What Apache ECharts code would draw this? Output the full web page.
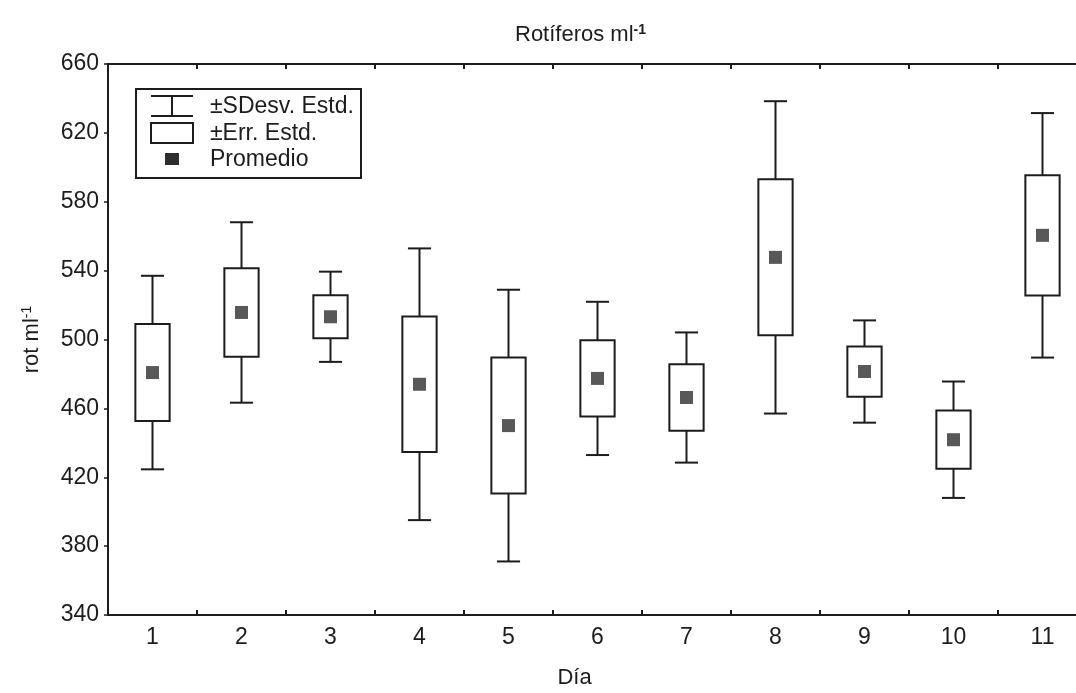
<!DOCTYPE html>
<html>
<head>
<meta charset="utf-8">
<script src="https://cdn.jsdelivr.net/npm/echarts@6/dist/echarts.min.js"></script>
<style>
  html, body { margin: 0; padding: 0; background: #fff; }
  #chart { width: 1076px; height: 693px; }
</style>
</head>
<body>
<div id="chart"></div>
<script>
// Rotifer density per day: mean, standard error and standard deviation
const days = ['1', '2', '3', '4', '5', '6', '7', '8', '9', '10', '11'];
const means = [480.8, 515.7, 513.2, 474.0, 450.0, 477.4, 466.3, 547.7, 481.4, 441.8, 560.5];
const stdErr = [28.2, 25.7, 12.5, 39.3, 39.5, 22.1, 19.3, 45.3, 14.6, 16.9, 34.9];
const stdDev = [56.2, 52.4, 26.2, 78.9, 78.9, 44.5, 37.8, 90.7, 29.7, 33.8, 71.0];
const yTicks = [340, 380, 420, 460, 500, 540, 580, 620, 660];

const INK = '#1c1c1c';
const FONT = '"Liberation Sans", Arial, sans-serif';

const statData = days.map((d, i) => [i, means[i], stdErr[i], stdDev[i]]);
const meanData = days.map((d, i) => [i, means[i]]);

// Whiskers (±SD) with caps
function renderWhisker(params, api) {
  const i = api.value(0), m = api.value(1), se = api.value(2), sd = api.value(3);
  const bw = api.size([1, 0])[0];
  const capHalf = bw * 0.13;
  const top = api.coord([i, m + sd]);
  const boxTop = api.coord([i, m + se]);
  const boxBot = api.coord([i, m - se]);
  const bot = api.coord([i, m - sd]);
  const x = top[0];
  const style = { stroke: INK, lineWidth: 2, fill: null };
  return {
    type: 'group',
    children: [
      { type: 'line', shape: { x1: x, y1: top[1], x2: x, y2: boxTop[1] }, style },
      { type: 'line', shape: { x1: x, y1: boxBot[1], x2: x, y2: bot[1] }, style },
      { type: 'line', shape: { x1: x - capHalf, y1: top[1], x2: x + capHalf, y2: top[1] }, style },
      { type: 'line', shape: { x1: x - capHalf, y1: bot[1], x2: x + capHalf, y2: bot[1] }, style }
    ]
  };
}

// Boxes (±SE)
function renderBox(params, api) {
  const i = api.value(0), m = api.value(1), se = api.value(2);
  const bw = api.size([1, 0])[0] * 0.385;
  const hi = api.coord([i, m + se]);
  const lo = api.coord([i, m - se]);
  return {
    type: 'rect',
    shape: { x: hi[0] - bw / 2, y: hi[1], width: bw, height: lo[1] - hi[1] },
    style: { stroke: INK, lineWidth: 2, fill: '#fff' }
  };
}

const chart = echarts.init(document.getElementById('chart'), null, { renderer: 'canvas' });

const legendX = 135, legendY = 88;

chart.setOption({
  backgroundColor: '#fff',
  animation: false,
  title: {
    text: '{t|Rotíferos ml}{s|-1}',
    left: 510,
    top: 18,
    textStyle: {
      rich: {
        t: { fontFamily: FONT, fontSize: 22, color: INK, fontWeight: 'normal' },
        s: { fontFamily: FONT, fontSize: 14, color: INK, verticalAlign: 'top', padding: [0, 0, 10, 0] }
      }
    }
  },
  grid: {
    left: 108,
    top: 64,
    width: 979,
    height: 551,
    outerBoundsMode: 'none',
    containLabel: false,
    show: true,
    borderColor: INK,
    borderWidth: 2,
    backgroundColor: 'transparent'
  },
  xAxis: [
    {
      type: 'category',
      data: days,
      position: 'bottom',
      axisLine: { show: true, lineStyle: { color: INK, width: 2 } },
      axisTick: { show: true, inside: true, length: 5, lineStyle: { color: INK, width: 2 } },
      axisLabel: { fontFamily: FONT, fontSize: 23, color: INK, margin: 11 },
      name: 'Día',
      nameLocation: 'middle',
      nameGap: 52,
      nameTextStyle: { fontFamily: FONT, fontSize: 22, color: INK, padding: [0, 46, 0, 0] }
    },
    {
      type: 'category',
      data: days,
      position: 'top',
      axisLine: { show: true, lineStyle: { color: INK, width: 2 } },
      axisTick: { show: true, inside: true, length: 5, lineStyle: { color: INK, width: 2 } },
      axisLabel: { show: false }
    }
  ],
  yAxis: {
    type: 'value',
    min: yTicks[0],
    max: yTicks[yTicks.length - 1],
    interval: yTicks[1] - yTicks[0],
    splitLine: { show: false },
    axisLine: { show: true, lineStyle: { color: INK, width: 2 } },
    axisTick: { show: true, inside: false, length: 4, lineStyle: { color: INK, width: 1.5 } },
    axisLabel: { fontFamily: FONT, fontSize: 23, color: INK, margin: 9 },
    name: '{t|rot ml}{s|-1}',
    nameLocation: 'middle',
    nameGap: 64,
    nameTextStyle: {
      rich: {
        t: { fontFamily: FONT, fontSize: 22, color: INK },
        s: { fontFamily: FONT, fontSize: 14, color: INK, verticalAlign: 'top', padding: [0, 0, 10, 0] }
      }
    }
  },
  series: [
    {
      name: '±SDesv. Estd.',
      type: 'custom',
      renderItem: renderWhisker,
      data: statData,
      encode: { x: 0, y: [1] },
      z: 2
    },
    {
      name: '±Err. Estd.',
      type: 'custom',
      renderItem: renderBox,
      data: statData,
      encode: { x: 0, y: [1] },
      z: 3
    },
    {
      name: 'Promedio',
      type: 'scatter',
      data: meanData,
      symbol: 'rect',
      symbolSize: 13,
      itemStyle: { color: '#2e2e2e' },
      z: 4
    }
  ],
  graphic: [
    {
      type: 'group',
      left: legendX,
      top: legendY,
      children: [
        { type: 'rect', shape: { x: 0, y: 0, width: 225, height: 89 }, style: { fill: '#fff', stroke: INK, lineWidth: 2 } },
        { type: 'line', shape: { x1: 15, y1: 7, x2: 57, y2: 7 }, style: { stroke: INK, lineWidth: 2 } },
        { type: 'line', shape: { x1: 36, y1: 7, x2: 36, y2: 27 }, style: { stroke: INK, lineWidth: 2 } },
        { type: 'line', shape: { x1: 15, y1: 27, x2: 57, y2: 27 }, style: { stroke: INK, lineWidth: 2 } },
        { type: 'rect', shape: { x: 15, y: 34, width: 42, height: 20 }, style: { fill: '#fff', stroke: INK, lineWidth: 2 } },
        { type: 'rect', shape: { x: 29, y: 64, width: 14, height: 12 }, style: { fill: '#2e2e2e' } },
        { type: 'text', x: 74, y: 18, style: { text: '±SDesv. Estd.', font: '23px ' + FONT, fill: INK, verticalAlign: 'middle' } },
        { type: 'text', x: 74, y: 45, style: { text: '±Err. Estd.', font: '23px ' + FONT, fill: INK, verticalAlign: 'middle' } },
        { type: 'text', x: 74, y: 71, style: { text: 'Promedio', font: '23px ' + FONT, fill: INK, verticalAlign: 'middle' } }
      ]
    }
  ]
});
</script>
</body>
</html>
